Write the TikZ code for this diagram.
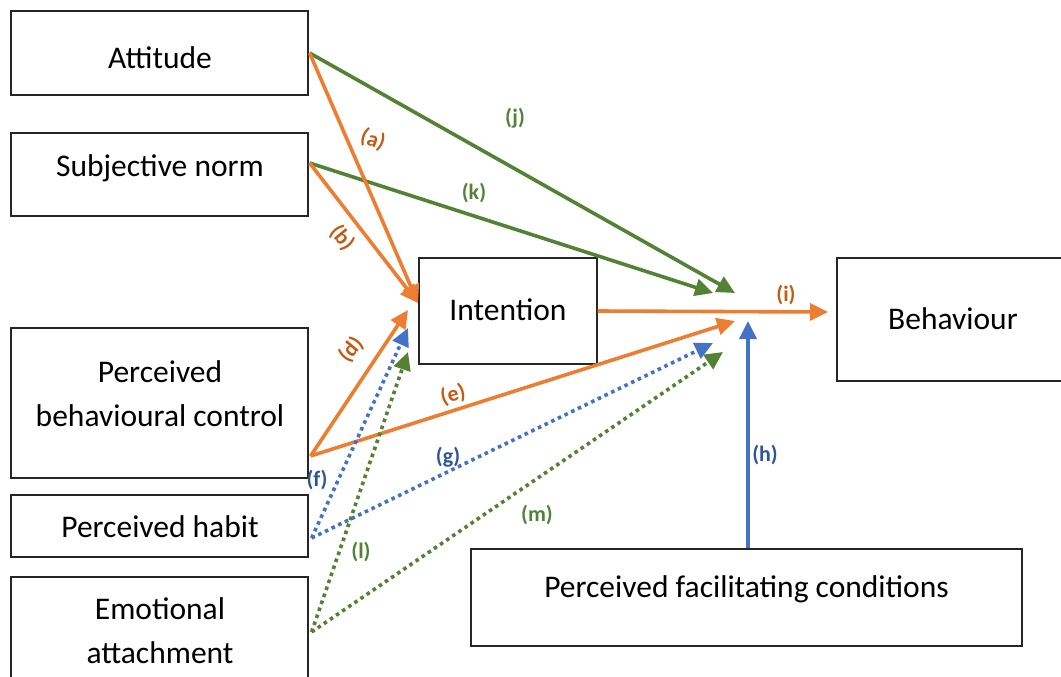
\documentclass[tikz,border=0pt]{standalone}
\usepackage{fontspec}
\setmainfont{Carlito}
\usetikzlibrary{arrows.meta,calc}
\definecolor{orLine}{HTML}{ED7D31}
\definecolor{orText}{HTML}{C55A11}
\definecolor{grLine}{HTML}{548235}
\definecolor{grText}{HTML}{538135}
\definecolor{blLine}{HTML}{4472C4}
\definecolor{blText}{HTML}{2F5597}
\begin{document}
\begin{tikzpicture}[x=1pt,y=-1pt,
  box/.style={draw=black!85, line width=1.2pt, fill=white, inner sep=0pt},
  boxtext/.style={inner sep=0pt, align=center, font=\fontsize{31.5}{44}\selectfont},
  lab/.style={inner sep=0pt, font=\bfseries\fontsize{22}{26}\selectfont},
  conn/.style={line width=3.6pt, -{Triangle[length=18pt,width=17pt]}},
  solidconn/.style={conn},
  dotconn/.style={conn, dash pattern=on 3.6pt off 3.8pt},
]
\useasboundingbox (0,0) rectangle (1061,677);

% construct boxes
\node[box, minimum width=297pt, minimum height=84pt] (att) at (159.5,53) {};
\node[box, minimum width=297pt, minimum height=83pt] (sn) at (159.5,174.5) {};
\node[box, minimum width=178pt, minimum height=106pt] (int) at (508,311) {};
\node[box, minimum width=225pt, minimum height=123pt] (beh) at (949.5,319.5) {};
\node[box, minimum width=297pt, minimum height=150pt] (pbc) at (159.5,403) {};
\node[box, minimum width=297pt, minimum height=62pt] (hab) at (159.5,526) {};
\node[box, minimum width=297pt, minimum height=113pt] (emo) at (159.5,633.5) {};
\node[box, minimum width=551pt, minimum height=97pt] (pfc) at (746.5,597.5) {};

% box captions
\node[boxtext] (attT) at (160,58) {Attitude};
\node[boxtext] (snT) at (160,168) {Subjective norm};
\node[boxtext] (intT) at (508,310) {Intention};
\node[boxtext] (behT) at (953,319) {Behaviour};
\node[boxtext] (pbcT) at (160,394) {Perceived\\behavioural control};
\node[boxtext] (habT) at (160,527) {Perceived habit};
\node[boxtext] (emoT) at (160,631) {Emotional\\attachment};
\node[boxtext] (pfcT) at (746.5,589) {Perceived facilitating conditions};

% arrow end points
\coordinate (tA) at (418,303);
\coordinate (tD) at (408,310);
\coordinate (tF) at (408,328);
\coordinate (tL) at (408,352);
\coordinate (tJ) at (735,293);
\coordinate (tK) at (713,293);
\coordinate (tE) at (735,321);
\coordinate (tG) at (713,343);
\coordinate (tM) at (723,352);
\coordinate (tH) at (748,321);
\coordinate (tI) at (828,312);

% start points on the source boxes
\coordinate (sAtt) at ($(att.east)+(1,0)$);
\coordinate (sSn) at ($(sn.east)+(1,-11.5)$);
\coordinate (sPbc) at ($(pbc.east)+(2,53)$);
\coordinate (sHab) at ($(hab.east)+(3,12)$);
\coordinate (sEmo) at ($(emo.east)+(3,-1.5)$);

% green paths to behaviour
\draw[solidconn, grLine] (sAtt) -- (tJ);
\draw[solidconn, grLine] (sSn) -- (tK);

% orange paths
\draw[solidconn, orLine] (sAtt) -- (tA);
\draw[solidconn, orLine] (sSn) -- (tA);
\draw[solidconn, orLine] (sPbc) -- (tD);
\draw[solidconn, orLine] (sPbc) -- (tE);
\draw[solidconn, orLine] (int.east) -- (tI);

% dotted paths
\draw[dotconn, blLine] (sHab) -- (tF);
\draw[dotconn, blLine] (sHab) -- (tG);
\draw[dotconn, grLine] (sEmo) -- (tL);
\draw[dotconn, grLine] (sEmo) -- (tM);

% facilitating conditions
\draw[solidconn, blLine] (pfc.north -| tH) -- (tH);

% path labels
\node[lab, orText, rotate=-20] (la) at (373,140) {(a)};
\node[lab, orText, rotate=-50] (lb) at (342,238) {(b)};
\node[lab, orText, rotate=50] (ld) at (351,350) {(d)};
\node[lab, orText, rotate=15] (le) at (453,395) {(e)};
\node[lab, orText] (li) at (786,295) {(i)};
\node[lab, grText] (lj) at (515,118) {(j)};
\node[lab, grText] (lk) at (474,193) {(k)};
\node[lab, grText] (ll) at (361,552) {(l)};
\node[lab, grText] (lm) at (537,515) {(m)};
\node[lab, blText] (lf) at (317,480) {(f)};
\node[lab, blText] (lg) at (448,457) {(g)};
\node[lab, blText] (lh) at (765,455) {(h)};
\end{tikzpicture}
\end{document}
